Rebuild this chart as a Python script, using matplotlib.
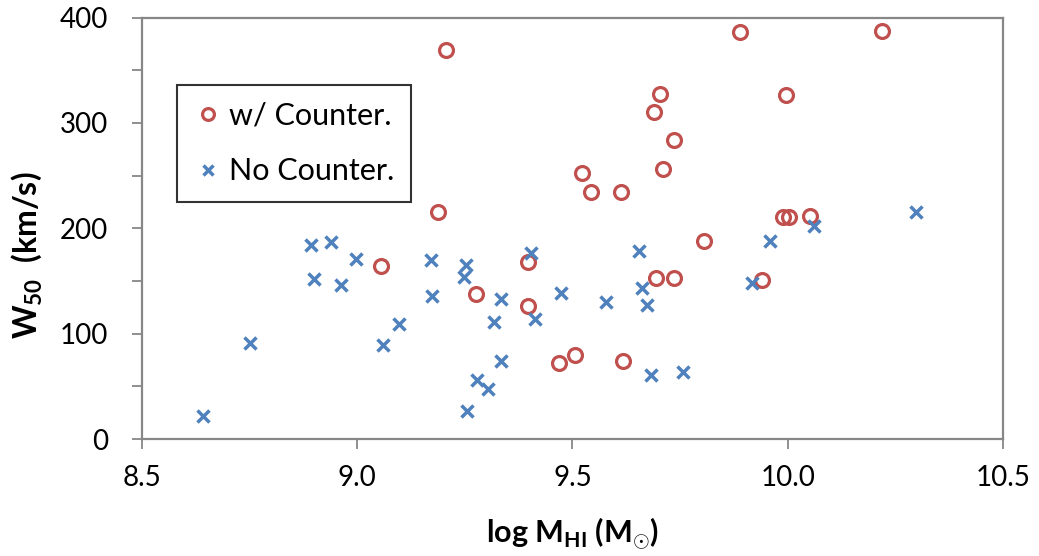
import matplotlib
matplotlib.use("Agg")
import matplotlib.pyplot as plt
from matplotlib.ticker import MultipleLocator, FormatStrFormatter

plt.rcParams['font.family'] = ['Lato', 'DejaVu Sans']
plt.rcParams['mathtext.fontset'] = 'custom'
plt.rcParams['mathtext.rm'] = 'Lato'
plt.rcParams['mathtext.bf'] = 'Lato:bold'
plt.rcParams['mathtext.fallback'] = 'cm'

# Galaxies with counter-rotating components
counter_logm = [9.207, 9.187, 9.888, 10.218, 9.703, 9.690, 9.736, 9.997, 9.711,
                9.522, 9.543, 9.612, 9.990, 10.002, 10.051, 9.055, 9.277, 9.396,
                9.396, 9.469, 9.505, 9.806, 9.693, 9.736, 9.941, 9.617]
counter_w50 = [369, 215, 386, 387, 327, 310, 284, 326, 256,
               252, 234, 234, 211, 211, 212, 164, 138, 168,
               126, 72, 80, 188, 153, 153, 151, 74]

# Galaxies without counter-rotation
nocounter_logm = [8.641, 8.751, 8.892, 8.939, 8.997, 8.899, 8.962, 9.172, 9.173,
                  9.253, 9.247, 9.335, 9.318, 9.403, 9.414, 9.474, 9.096, 9.060,
                  9.334, 9.278, 9.304, 9.256, 9.654, 9.578, 9.662, 9.673, 9.683,
                  9.757, 9.918, 9.959, 10.062, 10.297]
nocounter_w50 = [22, 91, 184, 187, 171, 152, 146, 170, 136,
                 165, 154, 133, 111, 177, 114, 139, 109, 89,
                 74, 56, 47, 27, 178, 130, 143, 127, 61,
                 64, 148, 188, 202, 215]

x_ticks = [8.5, 9.0, 9.5, 10.0, 10.5]
y_ticks = [0, 100, 200, 300, 400]

red = '#C0504D'
blue = '#4F81BD'
grey = '#878787'

fig = plt.figure(figsize=(10.39, 5.56), dpi=100)
ax = fig.add_axes([0.1367, 0.2104, 0.8286, 0.7581])

ax.plot(counter_logm, counter_w50, linestyle='none', marker='o', markersize=10,
        markerfacecolor='none', markeredgecolor=red, markeredgewidth=2.3,
        label='w/ Counter.')
ax.plot(nocounter_logm, nocounter_w50, linestyle='none', marker='x', markersize=9,
        markeredgecolor=blue, markeredgewidth=2.5, label='No Counter.')

ax.set_xlim(8.5, 10.5)
ax.set_ylim(0, 400)
ax.set_xticks(x_ticks)
ax.set_yticks(y_ticks)
ax.xaxis.set_major_formatter(FormatStrFormatter('%.1f'))
ax.yaxis.set_minor_locator(MultipleLocator(50))

for s in ax.spines.values():
    s.set_color(grey)
    s.set_linewidth(1.6)

ax.tick_params(axis='both', which='both', direction='out', color=grey,
               width=1.3, length=7.5, labelsize=20, labelcolor='black')
ax.tick_params(axis='x', pad=11)
ax.tick_params(axis='y', pad=17)
ax.tick_params(top=False, right=False)

ax.set_xlabel(r'log M$_{\mathbf{HI}}$ (M$_{\odot}$)', fontsize=22,
              fontweight='bold')
ax.set_ylabel(r'W$_{\mathbf{50}}$  (km/s)', fontsize=23, fontweight='bold')
ax.xaxis.set_label_coords(0.5, -0.182)
ax.yaxis.set_label_coords(-0.114, 0.437)

leg = ax.legend(loc='upper left', bbox_to_anchor=(0.0407, 0.840),
                borderaxespad=0, frameon=True, fancybox=False, fontsize=22,
                handlelength=0.9, handletextpad=0.25, borderpad=0.55,
                labelspacing=0.9, markerscale=0.85)
leg.get_frame().set_edgecolor('black')
leg.get_frame().set_linewidth(1.5)

fig.savefig('out.png', dpi=100)
